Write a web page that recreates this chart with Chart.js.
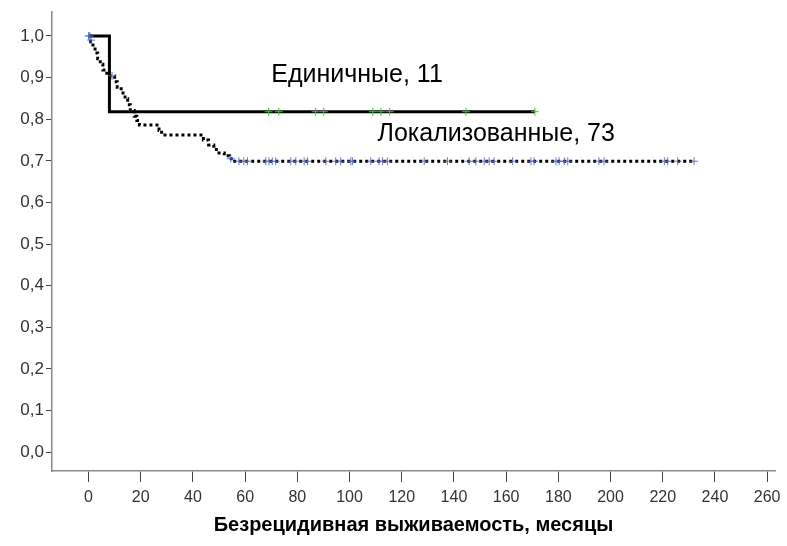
<!DOCTYPE html>
<html>
<head>
<meta charset="utf-8">
<script src="https://cdn.jsdelivr.net/npm/chart.js@4.4.0/dist/chart.umd.min.js"></script>
<style>
html, body { margin: 0; padding: 0; background: #fff; }
#wrap { width: 787px; height: 546px; position: relative; }
</style>
</head>
<body>
<div id="wrap"><canvas id="kmChart"></canvas></div>
<script>
// подписи осей
const xTicks = [0, 20, 40, 60, 80, 100, 120, 140, 160, 180, 200, 220, 240, 260];
const yTicks = [0.0, 0.1, 0.2, 0.3, 0.4, 0.5, 0.6, 0.7, 0.8, 0.9, 1.0];

// Единичные, 11
const singleTimes = [0, 8, 171];
const singleSurv = [1.0, 0.818, 0.818];
const singleCensTimes = [69, 72.9, 87, 90.1, 108.9, 112, 115.4, 144.6, 171];

// Локализованные, 73
const locTimes = [0, 0.8, 1.7, 2.5, 3.5, 4.5, 5.5, 7, 10, 11, 12.5, 14, 15, 16, 17.5, 18.5, 19.5,
                  27, 28, 44, 46, 48, 50, 52, 54, 56, 232];
const locSurv = [1.0, 0.986, 0.973, 0.959, 0.945, 0.932, 0.918, 0.904, 0.890, 0.877, 0.863, 0.849,
                 0.835, 0.821, 0.807, 0.797, 0.786, 0.773, 0.762, 0.750, 0.738, 0.727, 0.719, 0.712,
                 0.705, 0.699, 0.699];
const locCensTimes = [0, 0.5, 1, 9, 54.5, 57.6, 59.5, 60.9, 67.9, 69.1, 70.4, 71.7, 77.5, 79.4, 82.6,
                      83.9, 90.9, 94.7, 96.6, 100.5, 101.1, 108.1, 111.3, 112.6, 114.5, 128.6, 137.5,
                      145.8, 148.4, 151.6, 153.5, 155.4, 162.5, 169.5, 170.7, 179.1, 180.3, 182.3,
                      183.6, 195.5, 197.5, 220.6, 221.9, 225.7, 232];
const locCensSurv = [1.0, 1.0, 0.99, 0.904, 0.705, 0.699, 0.699, 0.699, 0.699, 0.699, 0.699, 0.699,
                     0.699, 0.699, 0.699, 0.699, 0.699, 0.699, 0.699, 0.699, 0.699, 0.699, 0.699,
                     0.699, 0.699, 0.699, 0.699, 0.699, 0.699, 0.699, 0.699, 0.699, 0.699, 0.699,
                     0.699, 0.699, 0.699, 0.699, 0.699, 0.699, 0.699, 0.699, 0.699, 0.699, 0.699];

const FONT = "'Liberation Sans', Arial, sans-serif";

function pts(xs, ys) {
    return xs.map((x, i) => ({ x: x, y: Array.isArray(ys) ? ys[i] : ys }));
}

// подписи групп на графике
const groupLabels = {
    id: 'groupLabels',
    afterDatasetsDraw(chart) {
        const c = chart.ctx;
        const sx = chart.scales.x, sy = chart.scales.y;
        c.save();
        c.font = "25px " + FONT;
        c.fillStyle = '#000';
        c.textBaseline = 'middle';
        c.fillText('Единичные, 11', sx.getPixelForValue(70), sy.getPixelForValue(0.907));
        c.fillText('Локализованные, 73', sx.getPixelForValue(110.7), sy.getPixelForValue(0.765));
        c.restore();
    }
};

const ctx = document.getElementById('kmChart').getContext('2d');
const kmChart = new Chart(ctx, {
    type: 'scatter',
    data: {
        datasets: [
            {
                type: 'line',
                data: pts(singleTimes, singleSurv),
                borderColor: '#000',
                borderWidth: 3,
                stepped: true,
                pointRadius: 0,
                fill: false,
                order: 3
            },
            {
                type: 'line',
                data: pts(locTimes, locSurv),
                borderColor: '#000',
                borderWidth: 3,
                borderDash: [3, 3],
                borderCapStyle: 'butt',
                stepped: true,
                pointRadius: 0,
                fill: false,
                order: 4
            },
            {
                data: pts(singleCensTimes, 0.818),
                pointStyle: 'cross',
                pointRadius: 4,
                borderWidth: 1,
                borderColor: '#33c633',
                order: 1
            },
            {
                data: pts(locCensTimes, locCensSurv),
                pointStyle: 'cross',
                pointRadius: 4,
                borderWidth: 1,
                borderColor: 'rgba(80, 100, 205, 0.85)',
                order: 2
            }
        ]
    },
    options: {
        responsive: true,
        maintainAspectRatio: false,
        animation: false,
        layout: { padding: { top: 8, right: 12, left: 0, bottom: 0 } },
        plugins: {
            legend: { display: false },
            tooltip: { enabled: false }
        },
        scales: {
            x: {
                type: 'linear',
                min: -14,
                max: 263,
                afterBuildTicks: s => { s.ticks = xTicks.map(v => ({ value: v })); },
                afterFit: s => { s.height = 75; },
                border: { display: true, color: '#8a8a8a', width: 1.5 },
                grid: { drawOnChartArea: false, drawTicks: true, tickLength: 11, color: '#444' },
                ticks: { autoSkip: false, maxRotation: 0, padding: 6, color: '#333', font: { family: FONT, size: 16 } },
                title: {
                    display: true,
                    text: 'Безрецидивная выживаемость, месяцы',
                    color: '#000',
                    font: { family: FONT, size: 20, weight: 'bold' },
                    padding: { top: 0, bottom: 9 }
                }
            },
            y: {
                type: 'linear',
                min: -0.045,
                max: 1.057,
                afterBuildTicks: s => { s.ticks = yTicks.map(v => ({ value: v })); },
                afterFit: s => { s.width = 52; },
                border: { display: true, color: '#8a8a8a', width: 1.5 },
                grid: { drawOnChartArea: false, drawTicks: true, tickLength: 6, color: '#444' },
                ticks: {
                    padding: 2,
                    color: '#333',
                    font: { family: FONT, size: 17 },
                    callback: v => v.toFixed(1).replace('.', ',')
                }
            }
        }
    },
    plugins: [groupLabels]
});
</script>
</body>
</html>
